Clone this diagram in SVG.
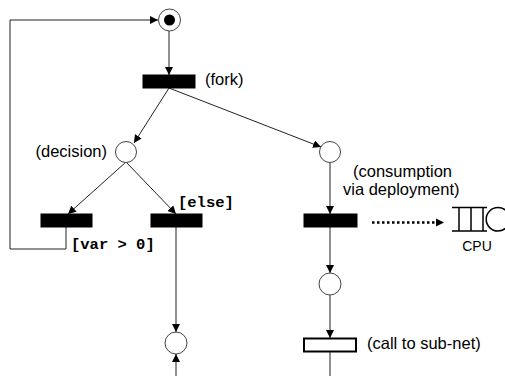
<svg xmlns="http://www.w3.org/2000/svg" width="505" height="376" viewBox="0 0 505 376">
  <defs>
    <marker id="arrow" viewBox="0 0 10 10" refX="10" refY="5" markerWidth="8" markerHeight="8" markerUnits="userSpaceOnUse" orient="auto">
      <path d="M0,0 L10,5 L0,10 Z" fill="#000"/>
    </marker>
    <style>
      .edge { fill: none; stroke: #222; stroke-width: 1; }
      .place { fill: #fff; stroke: #444; stroke-width: 1; }
      .trans { fill: #000; stroke: #000; stroke-width: 1; }
      .label { font-family: "Liberation Sans", Arial, sans-serif; font-size: 16.5px; fill: #000; }
      .guard { font-family: "Liberation Mono", "Courier New", monospace; font-size: 15.5px; font-weight: bold; fill: #000; }
    </style>
  </defs>
  <rect width="505" height="376" fill="#fff"/>

  <!-- connectors -->
  <g id="connectors">
    <path class="edge" d="M169,31 L169,75" marker-end="url(#arrow)"/>
    <path class="edge" d="M169,88 L134,143" marker-end="url(#arrow)"/>
    <path class="edge" d="M169,88 L321,147" marker-end="url(#arrow)"/>
    <path class="edge" d="M126,162 L68,214" marker-end="url(#arrow)"/>
    <path class="edge" d="M126,162 L176,214" marker-end="url(#arrow)"/>
    <path class="edge" d="M66,227 L66,249 L10,249 L10,20 L158,20" marker-end="url(#arrow)"/>
    <path class="edge" d="M176,227 L176,332" marker-end="url(#arrow)"/>
    <path class="edge" d="M176,376 L176,354" marker-end="url(#arrow)"/>
    <path class="edge" d="M330,162 L330,214" marker-end="url(#arrow)"/>
    <path class="edge" d="M330,227 L330,273" marker-end="url(#arrow)"/>
    <path class="edge" d="M330,295 L330,338" marker-end="url(#arrow)"/>
    <path class="edge" d="M330,352 L330,376"/>
    <path d="M372,222.5 L436,222.5" fill="none" stroke="#000" stroke-width="2.5" stroke-dasharray="2.5 2.5"/>
    <path d="M436,218.5 L444,222.5 L436,226.5 Z" fill="#000"/>
  </g>

  <!-- initial place with token -->
  <g id="start">
    <circle class="place" cx="169.5" cy="20" r="11"/>
    <circle cx="169.5" cy="20" r="5.5" fill="#000"/>
  </g>

  <g id="fork">
    <rect class="trans" x="143" y="75" width="52" height="13"/>
    <text class="label" x="205" y="85">(fork)</text>
  </g>

  <g id="decision">
    <circle class="place" cx="126" cy="152" r="10.5"/>
    <text class="label" x="107" y="156.5" text-anchor="end">(decision)</text>
  </g>

  <g id="loop-branch">
    <rect class="trans" x="41" y="214" width="51" height="13"/>
    <text class="guard" x="71" y="249">[var &gt; 0]</text>
  </g>

  <g id="else-branch">
    <rect class="trans" x="151" y="214" width="51" height="13"/>
    <text class="guard" x="178" y="207">[else]</text>
  </g>

  <g id="else-place">
    <circle class="place" cx="176" cy="343" r="11"/>
  </g>

  <g id="parallel-place">
    <circle class="place" cx="330" cy="152" r="10.5"/>
  </g>

  <g id="consumption">
    <rect class="trans" x="304" y="214" width="53" height="13"/>
    <text class="label" x="353" y="176.5">(consumption</text>
    <text class="label" x="343" y="194.5">via deployment)</text>
  </g>

  <!-- CPU queue: open buffer with slots, then server -->
  <g id="cpu" fill="none" stroke="#000" stroke-width="1.5">
    <path d="M452,207.5 L487,207.5 M452,231 L487,231 M459,207.5 L459,231 M471,207.5 L471,231 M483,207.5 L483,231"/>
    <circle cx="498" cy="219.3" r="11.8" fill="#fff"/>
    <text x="477" y="251" text-anchor="middle" stroke="none" fill="#000" font-family="'Liberation Sans', Arial, sans-serif" font-size="14px">CPU</text>
  </g>

  <g id="after-place">
    <circle class="place" cx="330" cy="284" r="11"/>
  </g>

  <g id="sub-net">
    <rect x="304" y="338.5" width="52" height="13" fill="#fff" stroke="#000" stroke-width="2"/>
    <text class="label" x="367" y="348.5">(call to sub-net)</text>
  </g>
</svg>
